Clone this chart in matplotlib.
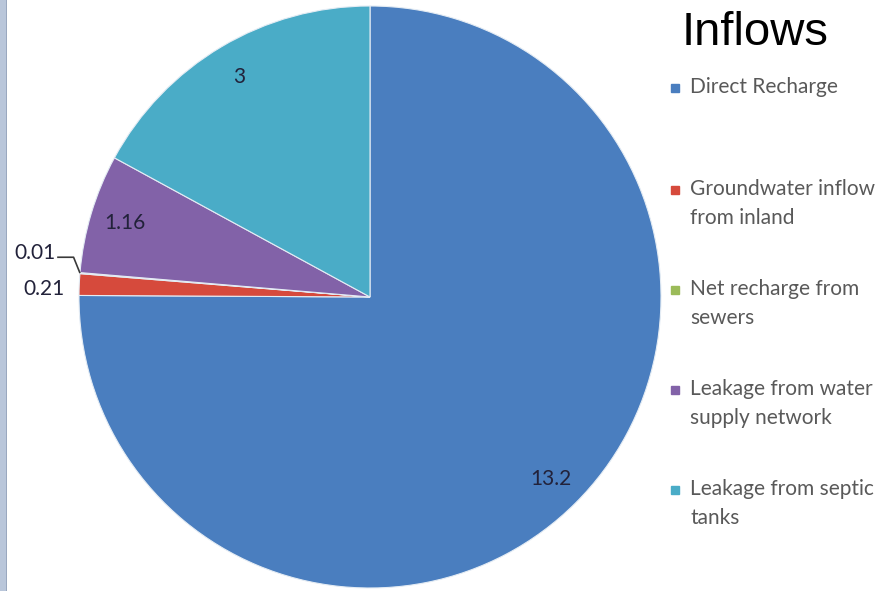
import numpy as np
import matplotlib
matplotlib.use("Agg")
import matplotlib.pyplot as plt
from matplotlib.patches import Rectangle

# inflow components
labels = ["Direct Recharge", "Groundwater inflow\nfrom inland", "Net recharge from\nsewers",
          "Leakage from water\nsupply network", "Leakage from septic\ntanks"]
values = [13.2, 0.21, 0.01, 1.16, 3]
value_text = ["13.2", "0.21", "0.01", "1.16", "3"]
colors = ["#4a7ebf", "#d64a3c", "#9bbb59", "#8262a8", "#4aacc7"]

W, H = 896, 591
fig = plt.figure(figsize=(W / 100, H / 100), dpi=100)
fig.patch.set_facecolor("white")

# pie centre (370, 297) px, radius 291 px
cx, cy, R = 370, 297, 291
half = 300
ax = fig.add_axes([(cx - half) / W, (H - cy - half) / H, 2 * half / W, 2 * half / H])

wedges, _ = ax.pie(values, colors=colors, startangle=90, counterclock=False, radius=1,
                   wedgeprops=dict(edgecolor="#e4ecf4", linewidth=0.8))
ax.set_xlim(-half / R, half / R)
ax.set_ylim(-half / R, half / R)
ax.axis("off")

lab_font = dict(family="Lato", fontsize=15, color="#22223a")

def polar(r, deg):
    a = np.deg2rad(deg)
    return r * np.cos(a), r * np.sin(a)

for i, w in enumerate(wedges):
    mid = (w.theta1 + w.theta2) / 2
    if values[i] >= 1:
        x, y = polar(0.88, mid)
        ax.text(x, y, value_text[i], ha="center", va="center", **lab_font)

# small slices get labels outside the pie
w = wedges[1]
x, y = polar(1.12, (w.theta1 + w.theta2) / 2 + 1)
ax.text(x, y, value_text[1], ha="center", va="center", **lab_font)

w = wedges[2]
mid = (w.theta1 + w.theta2) / 2
ex, ey = polar(1.0, mid)
lx, ly = polar(1.16, mid - 2.8)
ax.text(lx, ly, value_text[2], ha="center", va="center", **lab_font)
ax.plot([lx + 0.075, ex - 0.022, ex], [ly - 0.015, ly - 0.015, ey], color="#3a3a3a",
        lw=1.2, solid_capstyle="butt", clip_on=False)

# title and legend
fig.text(682 / W, 1 - 33 / H, "Inflows", family="Liberation Sans", fontsize=34,
         color="black", ha="left", va="center")
first_rows = [88, 190, 290, 390, 490]
for lab, col, yy in zip(labels, colors, first_rows):
    fig.patches.append(Rectangle((671 / W, 1 - (yy + 4) / H), 8 / W, 8 / H,
                                 transform=fig.transFigure, color=col))
    fig.text(690 / W, 1 - (yy - 11) / H, lab, family="Lato", fontsize=15, color="#595959",
             ha="left", va="top", linespacing=1.58)

# grey frame strip on the left edge
fig.patches.append(Rectangle((0, 0), 6 / W, 1, transform=fig.transFigure,
                             facecolor="#b9c6da", edgecolor="none"))
fig.patches.append(Rectangle((6 / W, 0), 1.2 / W, 1, transform=fig.transFigure,
                             facecolor="#9aa8bf", edgecolor="none"))

fig.savefig("out.png", dpi=100)
